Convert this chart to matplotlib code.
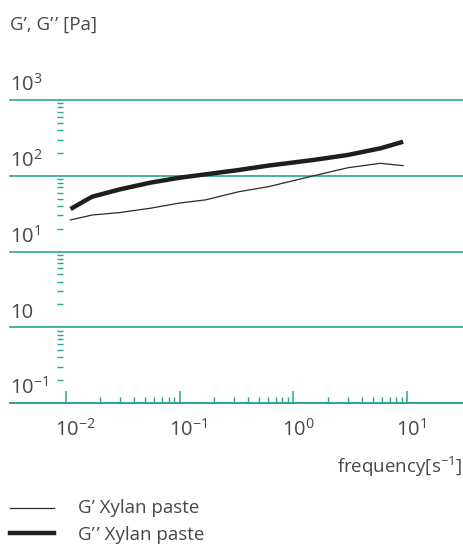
import matplotlib
matplotlib.use("Agg")
import matplotlib.pyplot as plt
import matplotlib.transforms as mtransforms
import numpy as np

plt.rcParams['font.family'] = ['Open Sans', 'DejaVu Sans']
plt.rcParams['mathtext.fontset'] = 'custom'
plt.rcParams['mathtext.rm'] = 'Open Sans'
plt.rcParams['mathtext.it'] = 'Open Sans'

# ---- data ----
freq = [0.011, 0.017, 0.03, 0.055, 0.1, 0.17, 0.33, 0.6, 1.5, 3.0, 5.8, 9.2]
g_storage = [26.1, 30.3, 32.7, 37.2, 43.6, 48.1, 61.5, 71.6, 99.8, 127.4, 146.0, 135.8]
g_loss = [36.4, 52.8, 66.2, 80.9, 94.2, 104.5, 119.0, 136.0, 161.6, 188.0, 230.0, 281.0]

y_ticks = [0.1, 1, 10, 100, 1000]
y_labels = [r'$\mathregular{10^{-1}}$', '10', r'$\mathregular{10^{1}}$',
            r'$\mathregular{10^{2}}$', r'$\mathregular{10^{3}}$']
x_ticks = [0.01, 0.1, 1, 10]
x_labels = [r'$\mathregular{10^{-2}}$', r'$\mathregular{10^{-1}}$',
            r'$\mathregular{10^{0}}$', r'$\mathregular{10^{1}}$']
series_labels = ['G\u2019 Xylan paste', 'G\u2019\u200a\u2019 Xylan paste']

TEAL = '#27a68b'
TXT = '#484848'

W, H = 464, 546
fig = plt.figure(figsize=(W / 100, H / 100), dpi=100)
ax = fig.add_axes([10 / W, (H - 403) / H, 453 / W, 303 / H])

ax.set_xscale('log')
ax.set_yscale('log')
ax.set_xlim(10 ** -2.49, 10 ** 1.49)
ax.set_ylim(0.1, 1000)

ax.plot(freq, g_storage, color='#2a2a2a', lw=0.9, solid_joinstyle='round')
ax.plot(freq, g_loss, color='#1e1e1e', lw=3.2, solid_capstyle='butt')

# grid lines
for yv in y_ticks[1:]:
    ax.axhline(yv, color=TEAL, lw=1.2, clip_on=False, zorder=0)

for s in ['top', 'right']:
    ax.spines[s].set_visible(False)
ax.spines['bottom'].set_color(TEAL)
ax.spines['bottom'].set_linewidth(1.4)
ax.spines['left'].set_position(('axes', 50 / 453))
ax.spines['left'].set_visible(False)

# x ticks
ax.set_xticks(x_ticks)
ax.set_xticklabels([])
xminor = [m * 10.0 ** e for e in (-2, -1, 0) for m in range(2, 10)]
ax.set_xticks(xminor, minor=True)
ax.set_xticklabels([], minor=True)
ax.tick_params(axis='x', which='major', direction='in', length=9, width=1.1, color=TEAL)
ax.tick_params(axis='x', which='minor', direction='in', length=4, width=1.0, color=TEAL)

# y ticks (minor dashes)
ax.set_yticks(y_ticks)
ax.set_yticklabels([])
yminor = [m * 10.0 ** e for e in (-1, 0, 1, 2) for m in range(2, 10)]
ax.set_yticks(yminor, minor=True)
ax.set_yticklabels([], minor=True)
ax.tick_params(axis='y', which='major', length=0)
ax.tick_params(axis='y', which='minor', direction='inout', length=4, width=1.0, color=TEAL)

# x tick labels
for xv, lab in zip(x_ticks, x_labels):
    tr = mtransforms.blended_transform_factory(ax.transData, ax.transAxes)
    off = mtransforms.offset_copy(tr, fig=fig, x=-11, y=-16, units='dots')
    ax.text(xv, 0, lab, transform=off, ha='left', va='top', fontsize=14.5, color=TXT)

# y tick labels
for yv, lab in zip(y_ticks, y_labels):
    tr = mtransforms.blended_transform_factory(ax.transAxes, ax.transData)
    off = mtransforms.offset_copy(tr, fig=fig, x=0, y=9, units='dots')
    ax.text(0, yv, lab, transform=off, ha='left', va='baseline', fontsize=14.5, color=TXT)

fig.text(10 / W, 1 - 30 / H, 'G\u2019, G\u2019\u200a\u2019 [Pa]', ha='left', va='baseline',
         fontsize=13.5, color=TXT)
fig.text(462 / W, 1 - 473 / H, r'frequency[s$\mathregular{^{-1}}$]', ha='right',
         va='baseline', fontsize=13.5, color=TXT)

# legend
fig.add_artist(plt.Line2D([10 / W, 54 / W], [1 - 508 / H, 1 - 508 / H],
                          color='#2a2a2a', lw=0.9, transform=fig.transFigure))
fig.add_artist(plt.Line2D([10 / W, 54 / W], [1 - 533 / H, 1 - 533 / H],
                          color='#1e1e1e', lw=3.2, transform=fig.transFigure))
fig.text(78 / W, 1 - 508 / H, series_labels[0], ha='left', va='center',
         fontsize=13.5, color=TXT)
fig.text(78 / W, 1 - 535 / H, series_labels[1], ha='left', va='center',
         fontsize=13.5, color=TXT)

fig.savefig('out.png', dpi=100)
